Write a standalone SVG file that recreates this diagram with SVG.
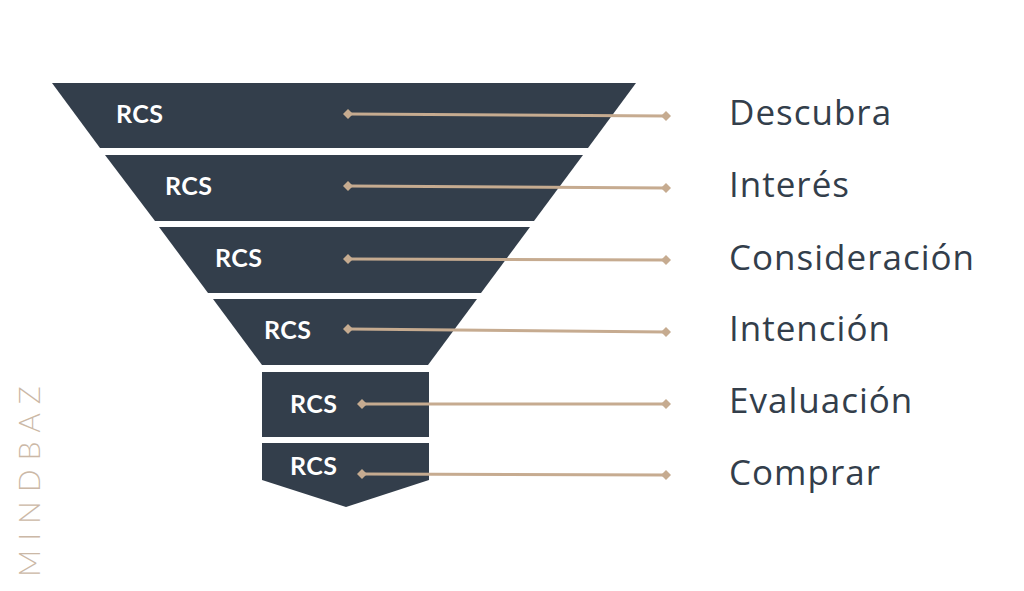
<svg xmlns="http://www.w3.org/2000/svg" width="1024" height="591" viewBox="0 0 1024 591">
<defs>
<style>
.band{fill:#333e4b}
.rcs{font-family:"Lato","Liberation Sans",sans-serif;font-weight:bold;font-size:25px;fill:#ffffff;letter-spacing:0.5px}
.lbl{font-family:"Open Sans","Liberation Sans",sans-serif;font-size:35px;fill:#333e4b;letter-spacing:1px}
.con{stroke:#c6ab90;stroke-width:3;fill:none}
.dia{fill:#c6ab90}
.logo{font-family:"Lato","Liberation Sans",sans-serif;font-weight:300;font-size:30px;fill:#cbb8a6;letter-spacing:9px}
</style>
</defs>
<rect width="1024" height="591" fill="#ffffff"/>
<g id="band1"><polygon class="band" points="52,83 636,83 588,148 100,148"/><text class="rcs" x="116" y="123">RCS</text></g>
<g id="band2"><polygon class="band" points="105,155 583,155 534,221 155,221"/><text class="rcs" x="165" y="195">RCS</text></g>
<g id="band3"><polygon class="band" points="159,227 530,227 481,293 208,293"/><text class="rcs" x="215" y="267">RCS</text></g>
<g id="band4"><polygon class="band" points="213,299 477,299 428,365 262,365"/><text class="rcs" x="264" y="339">RCS</text></g>
<g id="band5"><rect class="band" x="262" y="372" width="167" height="65"/><text class="rcs" x="290" y="413">RCS</text></g>
<g id="band6"><polygon class="band" points="262,443 429,443 429,480 346,507 262,480"/><text class="rcs" x="290" y="475">RCS</text></g>
<g id="connectors">
<line class="con" x1="348" y1="114" x2="666" y2="116"/>
<path class="dia" d="M348,109 L353,114 L348,119 L343,114Z"/><path class="dia" d="M666,111 L671,116 L666,121 L661,116Z"/>
<line class="con" x1="348" y1="186" x2="666" y2="188"/>
<path class="dia" d="M348,181 L353,186 L348,191 L343,186Z"/><path class="dia" d="M666,183 L671,188 L666,193 L661,188Z"/>
<line class="con" x1="348" y1="259" x2="666" y2="260"/>
<path class="dia" d="M348,254 L353,259 L348,264 L343,259Z"/><path class="dia" d="M666,255 L671,260 L666,265 L661,260Z"/>
<line class="con" x1="348" y1="329" x2="666" y2="332"/>
<path class="dia" d="M348,324 L353,329 L348,334 L343,329Z"/><path class="dia" d="M666,327 L671,332 L666,337 L661,332Z"/>
<line class="con" x1="362" y1="404" x2="666" y2="404"/>
<path class="dia" d="M362,399 L367,404 L362,409 L357,404Z"/><path class="dia" d="M666,399 L671,404 L666,409 L661,404Z"/>
<line class="con" x1="362" y1="474" x2="666" y2="475"/>
<path class="dia" d="M362,469 L367,474 L362,479 L357,474Z"/><path class="dia" d="M666,470 L671,475 L666,480 L661,475Z"/>
</g>
<g id="labels">
<text class="lbl" x="729" y="125">Descubra</text>
<text class="lbl" x="729" y="197">Interés</text>
<text class="lbl" x="729" y="270">Consideración</text>
<text class="lbl" x="729" y="341">Intención</text>
<text class="lbl" x="729" y="413">Evaluación</text>
<text class="lbl" x="729" y="485">Comprar</text>
</g>
<text class="logo" transform="translate(40,577) rotate(-90)" x="0" y="0">MINDBAZ</text>
</svg>
